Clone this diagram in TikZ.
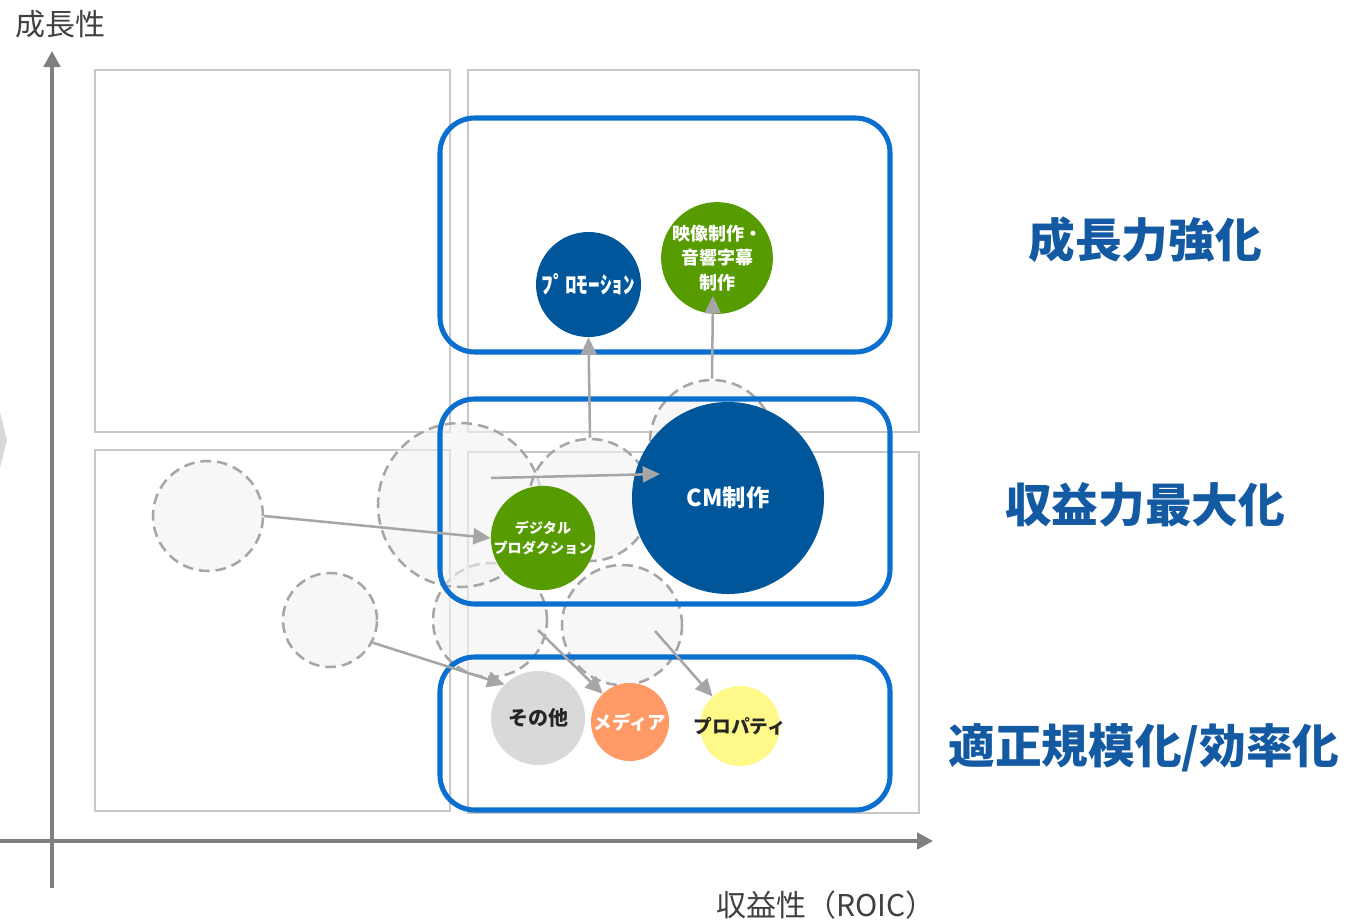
\documentclass[tikz,border=0pt]{standalone}
\usepackage{fontspec}
\setmainfont{Noto Sans CJK JP}
\usetikzlibrary{arrows.meta}
\definecolor{axisgray}{HTML}{808080}
\definecolor{framegray}{HTML}{C8C8C8}
\definecolor{dashgray}{HTML}{A6A6A6}
\definecolor{bluebox}{HTML}{0A6FCF}
\definecolor{labelblue}{HTML}{135AA3}
\definecolor{darkblue}{HTML}{00569B}
\definecolor{leafgreen}{HTML}{569B00}
\definecolor{othergray}{HTML}{D9D9D9}
\definecolor{mediaorange}{HTML}{FF9966}
\definecolor{propyellow}{HTML}{FFF98A}
\definecolor{txtgray}{HTML}{404040}
\tikzset{
  frame/.style={draw=framegray, line width=1.5pt},
  zonebox/.style={draw=bluebox, line width=3.8pt, rounded corners=26pt},
  ghost/.style={circle, draw=dashgray, line width=1.9pt, dash pattern=on 8pt off 4.5pt,
     fill=black!5, fill opacity=0.6, draw opacity=1, inner sep=0pt, minimum size=#1*1.5pt},
  biz/.style={circle, inner sep=0pt, minimum size=#1*1.5pt, align=center, text=white, font=\bfseries},
  move/.style={draw=dashgray, line width=1.9pt, -{Triangle[length=13pt,width=12pt]}},
  axis/.style={draw=axisgray, line width=2.3pt, -{Triangle[length=12pt,width=12.5pt]}},
  zonelabel/.style={text=labelblue, font=\fontsize{35}{40}\selectfont\bfseries},
  axislabel/.style={text=txtgray, font=\fontsize{22.5}{26}\selectfont}
}
\begin{document}
\begin{tikzpicture}[x=0.75pt,y=-0.75pt]
\useasboundingbox (0,0) rectangle (1359,921);
% left chevron
\fill[othergray] (0,412) -- (7,440) -- (0,468) -- cycle;
% quadrant frames
\draw[frame] (95,70) rectangle (450,432);
\draw[frame] (468,70) rectangle (919,432);
\draw[frame] (95,450) rectangle (450,811);
\draw[frame] (468,452) rectangle (919,813);
% axes
\coordinate (yb) at (52,888);
\coordinate (yt) at (52,51);
\coordinate (xl) at (0,841);
\coordinate (xr) at (933,841);
\draw[axis] (yb) -- (yt);
\draw[axis] (xl) -- (xr);
\node[axislabel] (ylab) at (60,24) {成長性};
\node[axislabel] (xlab) at (826,905) {収益性（ROIC）};
% ghost circles
\node[ghost=55] (A) at (208,516) {};
\node[ghost=47] (B) at (330,620) {};
\node[ghost=57] (F) at (490,620) {};
\node[ghost=60] (G) at (622,625) {};
\node[ghost=82] (C) at (460,505) {};
\node[ghost=61] (D) at (590,500) {};
\node[ghost=62] (E) at (712,442) {};
% zone boxes
\draw[zonebox] (440,118) rectangle (890,352);
\draw[zonebox] (440,399) rectangle (890,604);
\draw[zonebox] (440,657) rectangle (890,810);
% zone labels
\node[zonelabel] (z1) at (1145,240) {成長力強化};
\node[zonelabel] (z2) at (1145,505) {収益力最大化};
\node[zonelabel] (z3) at (1144,748) {適正規模化/効率化};
% business circles
\node[biz=52.5, fill=darkblue, font=\fontsize{17.5}{20}\selectfont\bfseries] (promo) at (588.5,284.5) {ﾌﾟﾛﾓｰｼｮﾝ};
\node[biz=52, fill=leafgreen, font=\fontsize{13.5}{18.5}\selectfont\bfseries] (eizo) at (717,258) {映像制作・\\音響字幕\\制作};
\node[biz=96, fill=darkblue, font=\fontsize{17.5}{20}\selectfont\bfseries] (cm) at (728,498) {CM制作};
\node[biz=49, fill=leafgreen, font=\fontsize{10.6}{15}\selectfont\bfseries] (dig) at (543,538) {デジタル\\プロダクション};
\node[biz=47, fill=othergray, text=black!85, font=\fontsize{15}{18}\selectfont\bfseries] (other) at (538,718) {その他};
\node[biz=39, fill=mediaorange, font=\fontsize{13.8}{16}\selectfont\bfseries] (media) at (630,722) {メディア};
\node[biz=40, fill=propyellow, text=black!85, font=\fontsize{14}{16}\selectfont\bfseries] (prop) at (740,726) {\makebox[0pt]{プロパティ}};
% movement arrows
\coordinate (c1) at (491,478);
\coordinate (c2) at (660,474);
\coordinate (e2) at (713,296);
\coordinate (f1) at (538,630);
\coordinate (g1) at (655,631);
\draw[move] (A.east) -- (dig.west);
\draw[move] (c1) -- (c2);
\draw[move] (D.north) -- (promo.south);
\draw[move] (E.north) -- (e2);
\draw[move] (B.-28) -- (other.135);
\draw[move] (f1) -- (media.134);
\draw[move] (g1) -- (prop.133);
\end{tikzpicture}
\end{document}
